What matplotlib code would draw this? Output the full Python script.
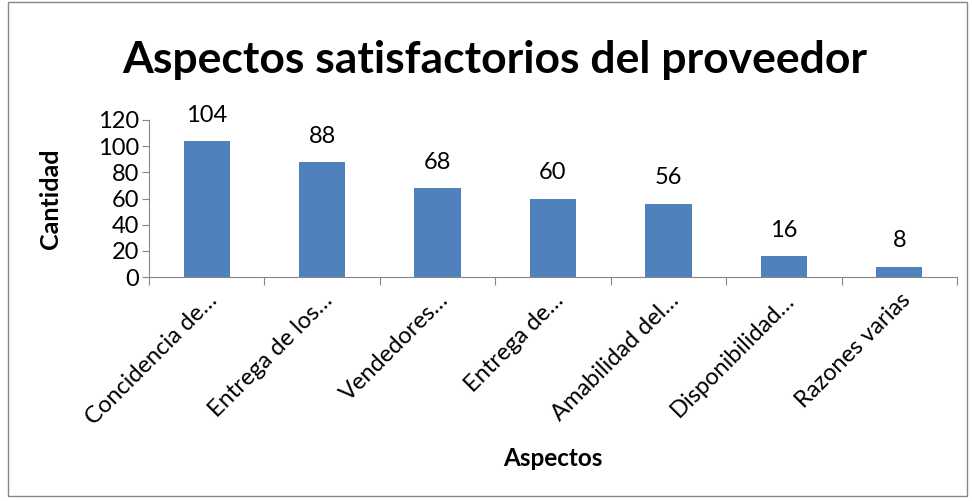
import matplotlib
matplotlib.use("Agg")
from matplotlib import pyplot as plt
from matplotlib.patches import Rectangle

# Datos del grafico
aspectos = ['Concidencia de…', 'Entrega de los…', 'Vendedores…',
            'Entrega de…', 'Amabilidad del…', 'Disponibilidad…',
            'Razones varias']
cantidad = [104, 88, 68, 60, 56, 16, 8]
y_ticks = [0, 20, 40, 60, 80, 100, 120]

plt.rcParams['font.family'] = ['Lato', 'DejaVu Sans']
BAR_COLOR = '#4F81BD'
AXIS_COLOR = '#868686'

fig = plt.figure(figsize=(9.72, 5.01), dpi=100)
ax = fig.add_axes([149 / 972, 1 - 277 / 501, (957 - 149) / 972, (277 - 120) / 501])

pos = list(range(len(aspectos)))
ax.bar(pos, cantidad, width=0.4, color=BAR_COLOR, zorder=2)
for x, v in zip(pos, cantidad):
    ax.annotate(str(v), (x, v), xytext=(0, 11), textcoords='offset points',
                ha='center', va='bottom', fontsize=17)

ax.set_xlim(-0.5, len(aspectos) - 0.5)
ax.set_ylim(0, 120)
ax.set_yticks(y_ticks)
ax.tick_params(axis='y', labelsize=17, length=5, color=AXIS_COLOR, pad=2)

# ticks del eje x entre categorias, etiquetas en el centro
ax.set_xticks([p - 0.5 for p in pos] + [len(aspectos) - 0.5])
ax.set_xticklabels([])
ax.tick_params(axis='x', length=6, color=AXIS_COLOR)
ax.set_xticks(pos, minor=True)
ax.set_xticklabels(aspectos, minor=True, rotation=45, ha='right',
                   rotation_mode='anchor', fontsize=17)
ax.tick_params(axis='x', which='minor', length=0, pad=9)

for side in ['top', 'right']:
    ax.spines[side].set_visible(False)
ax.spines['left'].set_color(AXIS_COLOR)
ax.spines['bottom'].set_color(AXIS_COLOR)

ax.set_ylabel('Cantidad', fontsize=18, fontweight='bold')
ax.yaxis.set_label_coords((62 - 149) / 808, 0.5)
fig.text(553 / 972, 1 - 458 / 501, 'Aspectos', ha='center', va='center',
         fontsize=17.5, fontweight='bold')
fig.text(495 / 972, 1 - 60 / 501, 'Aspectos satisfactorios del proveedor',
         ha='center', va='center', fontsize=32, fontweight='bold')

# marco exterior del grafico
fig.patches.append(Rectangle((8 / 972, 5 / 501), 959 / 972, 494 / 501,
                             transform=fig.transFigure, fill=False,
                             edgecolor=AXIS_COLOR, linewidth=1))

fig.savefig('out.png', dpi=100)
